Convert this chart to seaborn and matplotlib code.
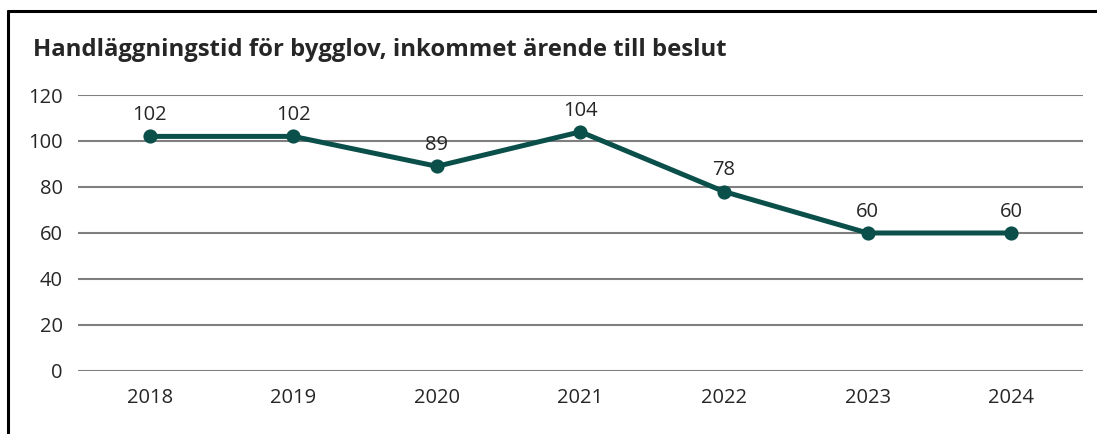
import matplotlib
matplotlib.use("Agg")
import matplotlib.pyplot as plt
from matplotlib.lines import Line2D
import seaborn as sns
import pandas as pd

years = ["2018", "2019", "2020", "2021", "2022", "2023", "2024"]
days = [102, 102, 89, 104, 78, 60, 60]
yticks = [0, 20, 40, 60, 80, 100, 120]
title = "Handläggningstid för bygglov, inkommet ärende till beslut"

sns.set_theme(style="white")
plt.rcParams["font.family"] = ["Open Sans", "DejaVu Sans"]

line_color = "#0b4f4b"
text_color = "#262626"

df = pd.DataFrame({"year": years, "days": days})

fig = plt.figure(figsize=(10.97, 4.34), dpi=100)
ax = fig.add_axes([0.0711, 0.1452, 0.9161, 0.6359])

sns.pointplot(data=df, x="year", y="days", ax=ax, color=line_color,
              markers="o", linestyles="-", linewidth=3.6,
              markersize=7.5, errorbar=None)

ax.set_xlim(-0.5, len(years) - 0.5)
ax.set_ylim(0, 120)
ax.set_yticks(yticks)
ax.set_yticklabels([str(t) for t in yticks])
for t in yticks:
    ax.axhline(t, color="#7f7f7f", lw=1.5, zorder=0)

for s in ax.spines.values():
    s.set_visible(False)
ax.set_xlabel("")
ax.set_ylabel("")
ax.tick_params(axis="both", length=0, labelsize=14.5, colors=text_color)
ax.tick_params(axis="x", pad=12)
ax.tick_params(axis="y", pad=11)

for i, v in enumerate(days):
    ax.annotate(str(v), (i, v), xytext=(0, 8), textcoords="offset points",
                ha="center", va="bottom", fontsize=14.5, color=text_color)

fig.text(33 / 1097, 1 - 50 / 434, title, fontsize=17.2, fontweight="bold",
         color=text_color, ha="left", va="center")

# outer frame (top and left edges)
fig.add_artist(Line2D([8 / 1097, 1.0], [1 - 11 / 434] * 2, color="black", lw=2.2,
                      transform=fig.transFigure))
fig.add_artist(Line2D([8 / 1097] * 2, [0, 1 - 11 / 434], color="black", lw=2.2,
                      transform=fig.transFigure))

fig.savefig("out.png", dpi=100)
